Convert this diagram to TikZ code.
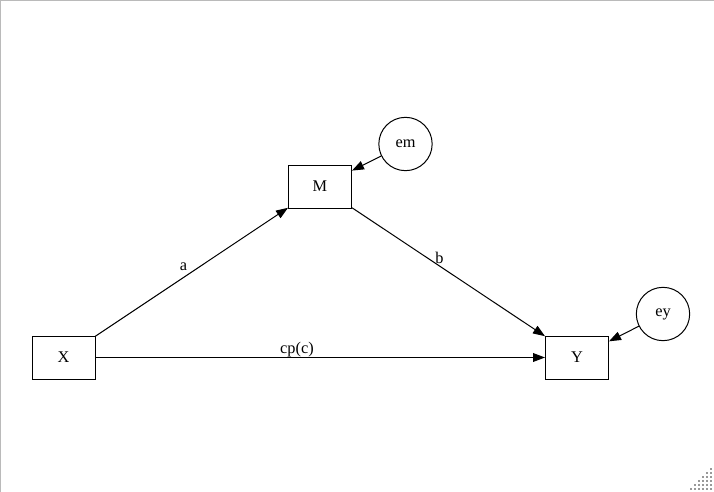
\documentclass[tikz,border=0pt]{standalone}
\usepackage{fontspec}
\setmainfont{Liberation Serif}
\usetikzlibrary{arrows.meta}
\begin{document}
\begin{tikzpicture}[x=0.75pt,y=-0.75pt,
  every node/.style={font=\fontsize{12.25}{14}\selectfont, inner sep=0pt},
  var/.style={draw, line width=0.75pt, minimum width=47.25pt, minimum height=32.25pt},
  err/.style={draw, circle, line width=0.75pt, minimum size=40pt},
  path/.style={draw, line width=0.75pt, -{Triangle[length=9pt,width=6.6pt]}},
  lbl/.style={anchor=base}]
  % canvas and frame
  \useasboundingbox (0,0) rectangle (714,492);
  \fill[white] (0,0) rectangle (714,492);
  \draw[color=black!27, line width=1.2pt] (0,492) -- (0,0) -- (714,0);
  % resize grip
  \foreach \i in {0,...,5}{
    \foreach \j in {0,...,5}{
      \pgfmathtruncatemacro{\s}{\i+\j}
      \ifnum\s>4
        \fill[black!40] (690+4*\i,468+4*\j) rectangle ++(2,2);
      \fi
    }
  }
  % variables
  \node[var] (X) at (63.5,357.5) {X};
  \node[var] (M) at (320,186.5) {M};
  \node[var] (Y) at (577,357.5) {Y};
  \node[err] (em) at (405.5,144) {em};
  \node[err] (ey) at (663,314) {ey};
  % paths
  \draw[path] (X) -- (M);
  \draw[path] (M) -- (Y);
  \draw[path] (X) -- (Y);
  \draw[path] (em) -- (M);
  \draw[path] (ey) -- (Y);
  % coefficient labels
  \node[lbl] (la) at (183.5,270.5) {a};
  \node[lbl] (lb) at (439.5,263) {b};
  \node[lbl] (lc) at (297,353) {cp(c)};
\end{tikzpicture}
\end{document}
